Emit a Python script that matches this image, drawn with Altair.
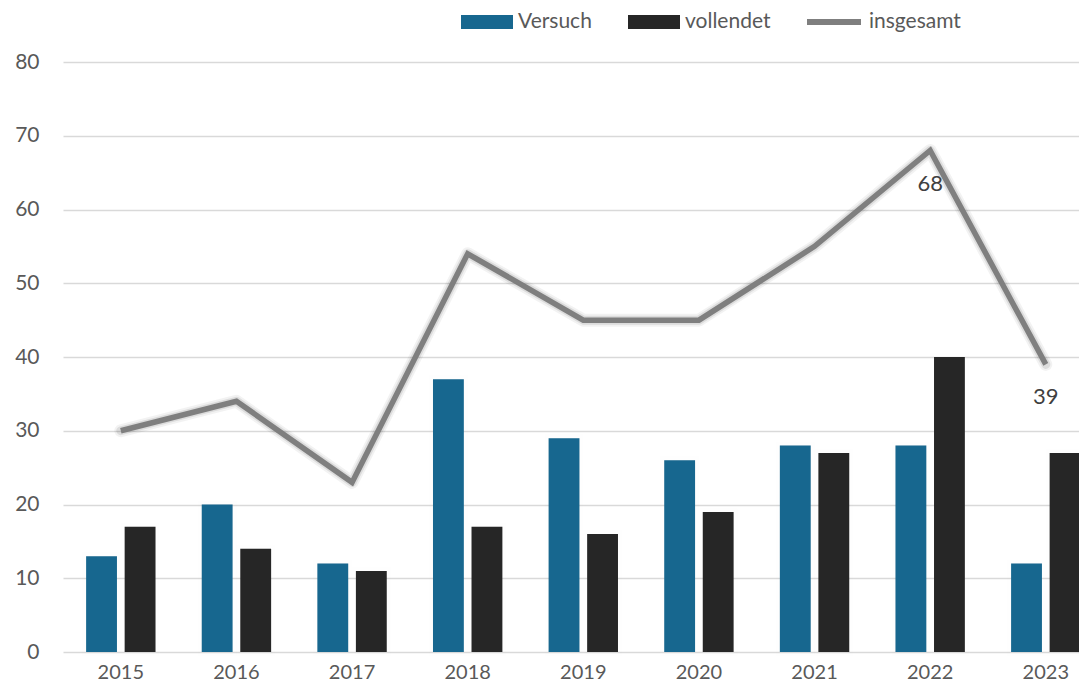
import altair as alt
import pandas as pd

years = ["2015", "2016", "2017", "2018", "2019", "2020", "2021", "2022", "2023"]
versuch = [13, 20, 12, 37, 29, 26, 28, 28, 12]
vollendet = [17, 14, 11, 17, 16, 19, 27, 40, 27]
insgesamt = [30, 34, 23, 54, 45, 45, 55, 68, 39]
label_years = ["2022", "2023"]

series_names = ["Versuch", "vollendet"]
bar_colors = ["#17678F", "#262626"]
line_color = "#7F7F7F"
FONT = "Lato"

W, H = 1016, 590
XR = 1040.6

bars_df = pd.DataFrame(
    [{"year": y, "series": "Versuch", "value": v} for y, v in zip(years, versuch)]
    + [{"year": y, "series": "vollendet", "value": v} for y, v in zip(years, vollendet)]
)
line_df = pd.DataFrame({"year": years, "value": insgesamt, "label": "insgesamt"})

x_scale = alt.Scale(domain=years, range=[0, XR], paddingInner=0.40, paddingOuter=0.20)
y_scale = alt.Scale(domain=[0, 80], nice=False)
xoff = alt.XOffset("series:N", sort=series_names,
                   scale=alt.Scale(domain=series_names, paddingInner=0.2, paddingOuter=0))

x_axis = alt.Axis(
    title=None, labelAngle=0, ticks=False, domain=False, labelPadding=10,
    labelFontSize=20, labelColor="#595959", labelFont=FONT,
)
y_axis = alt.Axis(
    title=None, values=list(range(0, 81, 10)), ticks=False, domain=False,
    labelPadding=24, labelFontSize=21, labelColor="#595959", labelFont=FONT,
    gridColor="#D9D9D9", gridWidth=1.4,
)
x_main = alt.X("year:N", scale=x_scale, sort=years, axis=x_axis)
y_main = alt.Y("value:Q", scale=y_scale, axis=y_axis)

bar_shadow = alt.Chart(bars_df).mark_bar(
    color="#000000", opacity=0.06, stroke="#000000", strokeWidth=7, strokeOpacity=0.06
).encode(x=x_main, xOffset=xoff, y=y_main)

bars = alt.Chart(bars_df).mark_bar().encode(
    x=x_main,
    xOffset=xoff,
    y=y_main,
    color=alt.Color(
        "series:N",
        sort=series_names,
        scale=alt.Scale(domain=series_names, range=bar_colors),
        legend=alt.Legend(
            title=None, orient="none", direction="horizontal",
            legendX=398, legendY=-66,
            symbolType="M-1,-0.27H1V0.27H-1Z", symbolSize=2704,
            symbolStrokeWidth=0, symbolOpacity=1,
            labelFontSize=21, labelColor="#595959", labelFont=FONT,
            labelOffset=5, columnPadding=36,
        ),
    ),
)

line_shadow_wide = alt.Chart(line_df).mark_line(
    strokeWidth=13, opacity=0.05, color="#000000", strokeJoin="round", strokeCap="round"
).encode(x=x_main, y=y_main)
line_shadow = alt.Chart(line_df).mark_line(
    strokeWidth=9, opacity=0.09, color="#000000", strokeJoin="round", strokeCap="round"
).encode(x=x_main, y=y_main)

line = alt.Chart(line_df).mark_line(strokeWidth=5.5, strokeJoin="miter", strokeCap="butt").encode(
    x=x_main,
    y=y_main,
    stroke=alt.Stroke(
        "label:N",
        scale=alt.Scale(domain=["insgesamt"], range=[line_color]),
        legend=alt.Legend(
            title=None, orient="none", legendX=741, legendY=-70,
            symbolType="stroke", symbolSize=2916, symbolStrokeWidth=6,
            labelFontSize=21, labelColor="#595959", labelFont=FONT, labelOffset=5,
        ),
    ),
)

labels = alt.Chart(line_df).transform_filter(
    alt.FieldOneOfPredicate(field="year", oneOf=label_years)
).mark_text(dy=33, fontSize=22, color="#404040", font=FONT).encode(
    x=x_main,
    y=y_main,
    text="value:Q",
)

chart = alt.layer(
    bar_shadow, bars, line_shadow_wide, line_shadow, line, labels,
).resolve_scale(
    color="independent"
).properties(
    width=W,
    height=H,
    background="white",
    autosize=alt.AutoSizeParams(type="none"),
    padding={"left": 55, "top": 54, "right": 0, "bottom": 31},
).configure_view(stroke="transparent", strokeWidth=0)

chart.save("out.html", embed_options={"renderer": "svg", "actions": False})
